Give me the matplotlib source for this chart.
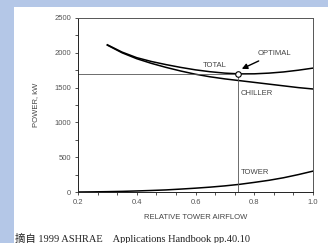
import matplotlib
matplotlib.use('Agg')
import matplotlib.pyplot as plt
from matplotlib.patches import Rectangle
from matplotlib.ticker import MultipleLocator

# values
airflow = [0.30, 0.35, 0.40, 0.45, 0.50, 0.55, 0.60, 0.65, 0.70, 0.75, 0.80, 0.85, 0.90, 0.95, 1.00]
total_kw = [2115, 2010, 1930, 1875, 1830, 1790, 1755, 1728, 1708, 1697, 1698, 1708, 1725, 1750, 1780]
chiller_kw = [2110, 2000, 1915, 1848, 1790, 1738, 1692, 1655, 1625, 1600, 1575, 1550, 1525, 1500, 1480]
tower_airflow = [0.20, 0.25, 0.30, 0.35, 0.40, 0.45, 0.50, 0.55, 0.60, 0.65, 0.70, 0.75, 0.80, 0.85, 0.90, 0.95, 1.00]
tower_kw = [0, 2, 5, 9, 15, 22, 30, 42, 55, 70, 88, 110, 138, 168, 205, 250, 300]
optimal_x = 0.745
optimal_kw = 1692

caption = "摘自 1999 ASHRAE    Applications Handbook pp.40.10"

plt.rcParams['font.family'] = ['Liberation Sans', 'DejaVu Sans']

fig = plt.figure(figsize=(3.28, 2.43), dpi=100)
fig.patch.set_facecolor('#b4c7e7')
fig.patches.append(Rectangle((14 / 328, 0), 1, 1 - 7 / 243, transform=fig.transFigure,
                             facecolor='white', edgecolor='none', zorder=-10))

ax = fig.add_axes([78 / 328, 51 / 243, 235 / 328, 174 / 243])
ax.set_facecolor('white')

ax.plot(airflow, total_kw, color='black', lw=1.1)
ax.plot(airflow, chiller_kw, color='black', lw=1.1)
ax.plot(tower_airflow, tower_kw, color='black', lw=1.1)

# guide lines through the optimum
ax.plot([0.2, optimal_x], [optimal_kw, optimal_kw], color='#555555', lw=0.6)
ax.plot([optimal_x, optimal_x], [0, optimal_kw], color='#555555', lw=0.6)
ax.plot([optimal_x], [optimal_kw], marker='o', ms=4, mfc='white', mec='black', mew=0.8, zorder=5)

txt = dict(fontsize=5.5, color='#444444')
ax.annotate('OPTIMAL', xy=(optimal_x + 0.004, optimal_kw + 60), xytext=(0.812, 1990),
            arrowprops=dict(arrowstyle='-|>', color='black', lw=1.0, mutation_scale=8),
            ha='left', va='center', **txt)
ax.text(0.666, 1815, 'TOTAL', ha='center', va='center', **txt)
ax.text(0.754, 1415, 'CHILLER', ha='left', va='center', **txt)
ax.text(0.755, 280, 'TOWER', ha='left', va='center', **txt)

ax.set_xlim(0.2, 1.0)
ax.set_ylim(0, 2500)
ax.xaxis.set_major_locator(MultipleLocator(0.2))
ax.xaxis.set_minor_locator(MultipleLocator(0.2 / 3))
ax.yaxis.set_major_locator(MultipleLocator(500))
ax.yaxis.set_minor_locator(MultipleLocator(250))
ax.set_xticklabels([f'{v:.1f}' for v in ax.get_xticks()])
ax.tick_params(which='both', direction='out', length=2.5, width=0.6, color='#333333',
               labelsize=5.5, labelcolor='#555555', pad=2.5)
for s in ax.spines.values():
    s.set_color('#555555')
    s.set_linewidth(0.7)
ax.spines['left'].set_color('#222222')
ax.spines['bottom'].set_color('#222222')

ax.set_xlabel('RELATIVE TOWER AIRFLOW', fontsize=5.5, color='#444444', labelpad=6)
ax.set_ylabel('POWER, kW', fontsize=5.5, color='#444444', labelpad=11)

fig.text(15 / 328, 1 - 238 / 243, caption, fontsize=7.5, color='#222222', va='center',
         family=['Liberation Serif', 'Noto Sans CJK TC'])

fig.savefig('out.png', dpi=100, facecolor=fig.get_facecolor())
